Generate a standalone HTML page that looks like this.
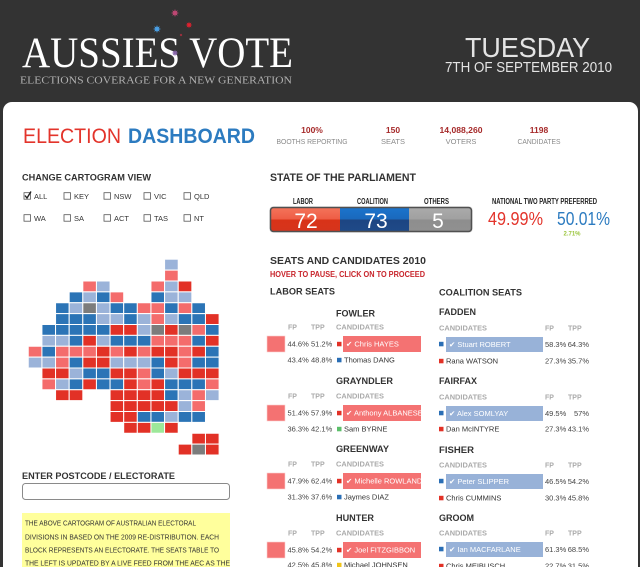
<!DOCTYPE html>
<html><head><meta charset="utf-8"><style>
html,body{margin:0;padding:0;width:640px;height:567px;overflow:hidden;background:#333}
svg{display:block}
text{font-family:"Liberation Sans","DejaVu Sans",sans-serif}
.D{fill:#2b74b6}.L{fill:#9bb3d9}.R{fill:#e23126}.P{fill:#f46c6c}.G{fill:#7c7c7c}.N{fill:#9de89a}
.m rect{vector-effect:non-scaling-stroke;stroke:#fff;stroke-width:1px}
.hd{font-weight:bold;font-size:9px;fill:#333}
.gh{font-weight:bold;font-size:7px;fill:#aaa}
.pc{font-size:7.5px;fill:#444}
.nm{font-size:7.5px;fill:#333}
.wn{font-size:7.5px;fill:#fff}
.cb{fill:#fff;stroke:#555;stroke-width:0.8}
.cl{font-size:7.5px;fill:#333}
.st{font-weight:bold;font-size:8.5px;fill:#a62a2a}
.sl{font-size:7.5px;fill:#8a8a8a}
</style></head><body>
<svg width="640" height="567" viewBox="0 0 640 567" xmlns="http://www.w3.org/2000/svg">
<defs>
<path id="star" d="M0,-4 L1,-1 L4,0 L1,1 L0,4 L-1,1 L-4,0 L-1,-1Z M0,-1.4 L2.8,-2.8 L1.4,0 L2.8,2.8 L0,1.4 L-2.8,2.8 L-1.4,0 L-2.8,-2.8Z"/>
<linearGradient id="gl" x1="0" y1="0" x2="0" y2="1"><stop offset="0" stop-color="#f4735a"/><stop offset="0.5" stop-color="#ee5c44"/><stop offset="0.5" stop-color="#d93318"/><stop offset="1" stop-color="#d6341c"/></linearGradient>
<linearGradient id="gc" x1="0" y1="0" x2="0" y2="1"><stop offset="0" stop-color="#1b74cc"/><stop offset="0.5" stop-color="#1a68bc"/><stop offset="0.5" stop-color="#1d4582"/><stop offset="1" stop-color="#1e4a88"/></linearGradient>
<linearGradient id="go" x1="0" y1="0" x2="0" y2="1"><stop offset="0" stop-color="#aaaaaa"/><stop offset="0.5" stop-color="#a0a0a0"/><stop offset="0.5" stop-color="#8e8e8e"/><stop offset="1" stop-color="#909090"/></linearGradient>
<clipPath id="clipL"><rect x="260" y="310" width="175" height="260"/></clipPath>
</defs>

<!-- header -->
<rect x="0" y="0" width="640" height="567" fill="#333"/>
<text x="22" y="67" font-family="Liberation Serif,serif" font-size="43" fill="#fff" textLength="271" lengthAdjust="spacingAndGlyphs" style="font-family:'Liberation Serif',serif">AUSSIES VOTE</text>
<text x="20" y="83.5" font-size="10" fill="#b0b0b0" textLength="272" lengthAdjust="spacingAndGlyphs" style="font-family:'Liberation Serif',serif">ELECTIONS COVERAGE FOR A NEW GENERATION</text>
<use href="#star" transform="translate(175,13)" fill="#c04874"/>
<use href="#star" transform="translate(189,25) scale(0.85)" fill="#e3202e"/>
<use href="#star" transform="translate(157,29)" fill="#4aa0e6"/>
<use href="#star" transform="translate(181,35) scale(0.4)" fill="#b03040"/>
<use href="#star" transform="translate(175,53) scale(0.85)" fill="#8866aa"/>
<text x="465" y="57" font-size="28" fill="#e4e4e4" textLength="125" lengthAdjust="spacingAndGlyphs">TUESDAY</text>
<text x="445" y="72" font-size="14.5" fill="#e4e4e4" textLength="167" lengthAdjust="spacingAndGlyphs">7TH OF SEPTEMBER 2010</text>

<!-- panel -->
<rect x="3" y="102" width="635" height="480" rx="9" fill="#fff"/>

<text x="23" y="143" font-size="21" fill="#e3342b" textLength="98" lengthAdjust="spacingAndGlyphs">ELECTION</text>
<text x="128" y="143" font-size="21" font-weight="bold" fill="#2c7bc0" textLength="127" lengthAdjust="spacingAndGlyphs">DASHBOARD</text>

<text class="st" x="312" y="133" text-anchor="middle">100%</text>
<text class="sl" x="312" y="144" text-anchor="middle" textLength="71" lengthAdjust="spacingAndGlyphs">BOOTHS REPORTING</text>
<text class="st" x="393" y="133" text-anchor="middle">150</text>
<text class="sl" x="393" y="144" text-anchor="middle">SEATS</text>
<text class="st" x="461" y="133" text-anchor="middle" textLength="43" lengthAdjust="spacingAndGlyphs">14,088,260</text>
<text class="sl" x="461" y="144" text-anchor="middle">VOTERS</text>
<text class="st" x="539" y="133" text-anchor="middle">1198</text>
<text class="sl" x="539" y="144" text-anchor="middle" textLength="43" lengthAdjust="spacingAndGlyphs">CANDIDATES</text>

<!-- cartogram controls -->
<text x="22" y="180.5" font-size="9" font-weight="bold" fill="#333" textLength="129" lengthAdjust="spacingAndGlyphs">CHANGE CARTOGRAM VIEW</text>
<rect class="cb" x="24" y="192.7" width="6.5" height="6.5"/>
<path d="M25,195.5 L27,198 L31,191.5" stroke="#222" stroke-width="1.4" fill="none"/>
<rect class="cb" x="64" y="192.7" width="6.5" height="6.5"/>
<rect class="cb" x="104" y="192.7" width="6.5" height="6.5"/>
<rect class="cb" x="144" y="192.7" width="6.5" height="6.5"/>
<rect class="cb" x="184" y="192.7" width="6.5" height="6.5"/>
<text class="cl" x="34" y="198.8">ALL</text>
<text class="cl" x="74" y="198.8">KEY</text>
<text class="cl" x="114" y="198.8">NSW</text>
<text class="cl" x="154" y="198.8">VIC</text>
<text class="cl" x="194" y="198.8">QLD</text>
<rect class="cb" x="24" y="214.7" width="6.5" height="6.5"/>
<rect class="cb" x="64" y="214.7" width="6.5" height="6.5"/>
<rect class="cb" x="104" y="214.7" width="6.5" height="6.5"/>
<rect class="cb" x="144" y="214.7" width="6.5" height="6.5"/>
<rect class="cb" x="184" y="214.7" width="6.5" height="6.5"/>
<text class="cl" x="34" y="220.8">WA</text>
<text class="cl" x="74" y="220.8">SA</text>
<text class="cl" x="114" y="220.8">ACT</text>
<text class="cl" x="154" y="220.8">TAS</text>
<text class="cl" x="194" y="220.8">NT</text>

<!-- map -->
<svg class="m" x="28.3" y="259.3" width="190.8" height="195.7" viewBox="0 0 14 18" preserveAspectRatio="none">
<rect class="L" x="10" y="0" width="1" height="1"/>
<rect class="P" x="10" y="1" width="1" height="1"/>
<rect class="P" x="4" y="2" width="1" height="1"/><rect class="L" x="5" y="2" width="1" height="1"/><rect class="P" x="9" y="2" width="1" height="1"/><rect class="L" x="10" y="2" width="1" height="1"/><rect class="R" x="11" y="2" width="1" height="1"/>
<rect class="D" x="3" y="3" width="1" height="1"/><rect class="L" x="4" y="3" width="1" height="1"/><rect class="D" x="5" y="3" width="1" height="1"/><rect class="P" x="6" y="3" width="1" height="1"/><rect class="D" x="9" y="3" width="1" height="1"/><rect class="L" x="10" y="3" width="1" height="1"/><rect class="L" x="11" y="3" width="1" height="1"/>
<rect class="D" x="2" y="4" width="1" height="1"/><rect class="L" x="3" y="4" width="1" height="1"/><rect class="G" x="4" y="4" width="1" height="1"/><rect class="L" x="5" y="4" width="1" height="1"/><rect class="D" x="6" y="4" width="1" height="1"/><rect class="D" x="7" y="4" width="1" height="1"/><rect class="P" x="8" y="4" width="1" height="1"/><rect class="P" x="9" y="4" width="1" height="1"/><rect class="D" x="10" y="4" width="1" height="1"/><rect class="P" x="11" y="4" width="1" height="1"/><rect class="D" x="12" y="4" width="1" height="1"/>
<rect class="D" x="2" y="5" width="1" height="1"/><rect class="D" x="3" y="5" width="1" height="1"/><rect class="D" x="4" y="5" width="1" height="1"/><rect class="L" x="5" y="5" width="1" height="1"/><rect class="L" x="6" y="5" width="1" height="1"/><rect class="D" x="7" y="5" width="1" height="1"/><rect class="L" x="8" y="5" width="1" height="1"/><rect class="P" x="9" y="5" width="1" height="1"/><rect class="L" x="10" y="5" width="1" height="1"/><rect class="D" x="11" y="5" width="1" height="1"/><rect class="D" x="12" y="5" width="1" height="1"/><rect class="R" x="13" y="5" width="1" height="1"/>
<rect class="D" x="1" y="6" width="1" height="1"/><rect class="D" x="2" y="6" width="1" height="1"/><rect class="D" x="3" y="6" width="1" height="1"/><rect class="D" x="4" y="6" width="1" height="1"/><rect class="D" x="5" y="6" width="1" height="1"/><rect class="R" x="6" y="6" width="1" height="1"/><rect class="R" x="7" y="6" width="1" height="1"/><rect class="L" x="8" y="6" width="1" height="1"/><rect class="G" x="9" y="6" width="1" height="1"/><rect class="R" x="10" y="6" width="1" height="1"/><rect class="G" x="11" y="6" width="1" height="1"/><rect class="P" x="12" y="6" width="1" height="1"/><rect class="D" x="13" y="6" width="1" height="1"/>
<rect class="L" x="1" y="7" width="1" height="1"/><rect class="L" x="2" y="7" width="1" height="1"/><rect class="D" x="3" y="7" width="1" height="1"/><rect class="R" x="4" y="7" width="1" height="1"/><rect class="L" x="5" y="7" width="1" height="1"/><rect class="D" x="6" y="7" width="1" height="1"/><rect class="D" x="7" y="7" width="1" height="1"/><rect class="D" x="8" y="7" width="1" height="1"/><rect class="P" x="9" y="7" width="1" height="1"/><rect class="P" x="10" y="7" width="1" height="1"/><rect class="P" x="11" y="7" width="1" height="1"/><rect class="D" x="12" y="7" width="1" height="1"/><rect class="R" x="13" y="7" width="1" height="1"/>
<rect class="P" x="0" y="8" width="1" height="1"/><rect class="D" x="1" y="8" width="1" height="1"/><rect class="P" x="2" y="8" width="1" height="1"/><rect class="P" x="3" y="8" width="1" height="1"/><rect class="P" x="4" y="8" width="1" height="1"/><rect class="R" x="5" y="8" width="1" height="1"/><rect class="P" x="6" y="8" width="1" height="1"/><rect class="R" x="7" y="8" width="1" height="1"/><rect class="P" x="8" y="8" width="1" height="1"/><rect class="R" x="9" y="8" width="1" height="1"/><rect class="R" x="10" y="8" width="1" height="1"/><rect class="P" x="11" y="8" width="1" height="1"/><rect class="R" x="12" y="8" width="1" height="1"/><rect class="D" x="13" y="8" width="1" height="1"/>
<rect class="L" x="0" y="9" width="1" height="1"/><rect class="L" x="1" y="9" width="1" height="1"/><rect class="P" x="2" y="9" width="1" height="1"/><rect class="D" x="3" y="9" width="1" height="1"/><rect class="R" x="4" y="9" width="1" height="1"/><rect class="R" x="5" y="9" width="1" height="1"/><rect class="L" x="6" y="9" width="1" height="1"/><rect class="L" x="7" y="9" width="1" height="1"/><rect class="L" x="8" y="9" width="1" height="1"/><rect class="D" x="9" y="9" width="1" height="1"/><rect class="R" x="10" y="9" width="1" height="1"/><rect class="P" x="11" y="9" width="1" height="1"/><rect class="D" x="12" y="9" width="1" height="1"/><rect class="D" x="13" y="9" width="1" height="1"/>
<rect class="R" x="1" y="10" width="1" height="1"/><rect class="R" x="2" y="10" width="1" height="1"/><rect class="L" x="3" y="10" width="1" height="1"/><rect class="D" x="4" y="10" width="1" height="1"/><rect class="D" x="5" y="10" width="1" height="1"/><rect class="R" x="6" y="10" width="1" height="1"/><rect class="R" x="7" y="10" width="1" height="1"/><rect class="P" x="8" y="10" width="1" height="1"/><rect class="D" x="9" y="10" width="1" height="1"/><rect class="L" x="10" y="10" width="1" height="1"/><rect class="R" x="11" y="10" width="1" height="1"/><rect class="R" x="12" y="10" width="1" height="1"/><rect class="R" x="13" y="10" width="1" height="1"/>
<rect class="P" x="1" y="11" width="1" height="1"/><rect class="L" x="2" y="11" width="1" height="1"/><rect class="D" x="3" y="11" width="1" height="1"/><rect class="R" x="4" y="11" width="1" height="1"/><rect class="D" x="5" y="11" width="1" height="1"/><rect class="D" x="6" y="11" width="1" height="1"/><rect class="R" x="7" y="11" width="1" height="1"/><rect class="P" x="8" y="11" width="1" height="1"/><rect class="R" x="9" y="11" width="1" height="1"/><rect class="D" x="10" y="11" width="1" height="1"/><rect class="D" x="11" y="11" width="1" height="1"/><rect class="D" x="12" y="11" width="1" height="1"/><rect class="P" x="13" y="11" width="1" height="1"/>
<rect class="R" x="2" y="12" width="1" height="1"/><rect class="R" x="3" y="12" width="1" height="1"/><rect class="R" x="6" y="12" width="1" height="1"/><rect class="R" x="7" y="12" width="1" height="1"/><rect class="R" x="8" y="12" width="1" height="1"/><rect class="R" x="9" y="12" width="1" height="1"/><rect class="D" x="10" y="12" width="1" height="1"/><rect class="L" x="11" y="12" width="1" height="1"/><rect class="P" x="12" y="12" width="1" height="1"/><rect class="L" x="13" y="12" width="1" height="1"/>
<rect class="R" x="6" y="13" width="1" height="1"/><rect class="R" x="7" y="13" width="1" height="1"/><rect class="R" x="8" y="13" width="1" height="1"/><rect class="R" x="9" y="13" width="1" height="1"/><rect class="R" x="10" y="13" width="1" height="1"/><rect class="L" x="11" y="13" width="1" height="1"/><rect class="P" x="12" y="13" width="1" height="1"/>
<rect class="R" x="6" y="14" width="1" height="1"/><rect class="R" x="7" y="14" width="1" height="1"/><rect class="D" x="8" y="14" width="1" height="1"/><rect class="D" x="9" y="14" width="1" height="1"/><rect class="L" x="10" y="14" width="1" height="1"/><rect class="D" x="11" y="14" width="1" height="1"/><rect class="D" x="12" y="14" width="1" height="1"/>
<rect class="R" x="7" y="15" width="1" height="1"/><rect class="R" x="8" y="15" width="1" height="1"/><rect class="N" x="9" y="15" width="1" height="1"/><rect class="R" x="10" y="15" width="1" height="1"/>
<rect class="R" x="12" y="16" width="1" height="1"/><rect class="R" x="13" y="16" width="1" height="1"/>
<rect class="R" x="11" y="17" width="1" height="1"/><rect class="G" x="12" y="17" width="1" height="1"/><rect class="R" x="13" y="17" width="1" height="1"/>
</svg>

<!-- postcode -->
<text x="22" y="479" font-size="9" font-weight="bold" fill="#333" textLength="153" lengthAdjust="spacingAndGlyphs">ENTER POSTCODE / ELECTORATE</text>
<rect x="22.5" y="483.5" width="207" height="16" rx="3" fill="#fff" stroke="#8a8a8a" stroke-width="1"/>
<rect x="22" y="513" width="208" height="60" fill="#ffff9c"/>
<text x="25" y="525.5" font-size="7" fill="#333" textLength="171" lengthAdjust="spacingAndGlyphs">THE ABOVE CARTOGRAM OF AUSTRALIAN ELECTORAL</text>
<text x="25" y="539.5" font-size="7" fill="#333" textLength="194" lengthAdjust="spacingAndGlyphs">DIVISIONS IN BASED ON THE 2009 RE-DISTRIBUTION. EACH</text>
<text x="25" y="552.5" font-size="7" fill="#333" textLength="194" lengthAdjust="spacingAndGlyphs">BLOCK REPRESENTS AN ELECTORATE. THE SEATS TABLE TO</text>
<text x="25" y="565.5" font-size="7" fill="#333" textLength="205" lengthAdjust="spacingAndGlyphs">THE LEFT IS UPDATED BY A LIVE FEED FROM THE AEC AS THE</text>

<!-- parliament -->
<text x="270" y="181" font-size="11" font-weight="bold" fill="#333" textLength="146" lengthAdjust="spacingAndGlyphs">STATE OF THE PARLIAMENT</text>
<text x="293" y="204" font-size="8" font-weight="bold" fill="#222" textLength="20" lengthAdjust="spacingAndGlyphs">LABOR</text>
<text x="357" y="204" font-size="8" font-weight="bold" fill="#222" textLength="31" lengthAdjust="spacingAndGlyphs">COALITION</text>
<text x="424" y="204" font-size="8" font-weight="bold" fill="#222" textLength="25" lengthAdjust="spacingAndGlyphs">OTHERS</text>
<rect x="269.5" y="206.5" width="203" height="26" rx="3" fill="#ddd"/>
<rect x="271" y="208" width="69" height="23" fill="url(#gl)"/>
<rect x="340" y="208" width="69" height="23" fill="url(#gc)"/>
<rect x="409" y="208" width="62" height="23" fill="url(#go)"/>
<rect x="270.5" y="207.5" width="201" height="24" rx="3" fill="none" stroke="#505050" stroke-width="1.5"/>
<text x="306" y="228" font-size="21" fill="#fff" text-anchor="middle">72</text>
<text x="376" y="228" font-size="21" fill="#fff" text-anchor="middle">73</text>
<text x="438" y="228" font-size="21" fill="#fff" text-anchor="middle">5</text>

<text x="492" y="204" font-size="8" font-weight="bold" fill="#222" textLength="105" lengthAdjust="spacingAndGlyphs">NATIONAL TWO PARTY PREFERRED</text>
<text x="488" y="225" font-size="18" fill="#e3342b" textLength="55" lengthAdjust="spacingAndGlyphs">49.99%</text>
<text x="557" y="225" font-size="18" fill="#2c7bc0" textLength="53" lengthAdjust="spacingAndGlyphs">50.01%</text>
<text x="572" y="235.5" font-size="6" font-weight="bold" fill="#9bc53d" text-anchor="middle">2.71%</text>

<!-- seats -->
<text x="270" y="264" font-size="10.5" font-weight="bold" fill="#333" textLength="156" lengthAdjust="spacingAndGlyphs">SEATS AND CANDIDATES 2010</text>
<text x="270" y="277" font-size="8" font-weight="bold" fill="#c8242b" textLength="155" lengthAdjust="spacingAndGlyphs">HOVER TO PAUSE, CLICK ON TO PROCEED</text>
<text x="270" y="294.5" font-size="9" font-weight="bold" fill="#333" textLength="65" lengthAdjust="spacingAndGlyphs">LABOR SEATS</text>
<text x="439" y="295.5" font-size="9" font-weight="bold" fill="#333" textLength="83" lengthAdjust="spacingAndGlyphs">COALITION SEATS</text>

<!-- labor table -->
<g clip-path="url(#clipL)">
<text class="hd" x="336" y="316.5" textLength="39" lengthAdjust="spacingAndGlyphs">FOWLER</text>
<text class="gh" x="288" y="329.5">FP</text><text class="gh" x="311" y="329.5">TPP</text><text class="gh" x="336" y="329.5" textLength="48" lengthAdjust="spacingAndGlyphs">CANDIDATES</text>
<rect x="267" y="336" width="18" height="16" fill="#f47272" stroke="#fbd0d0" stroke-width="0.6"/>
<text class="pc" x="287.5" y="346.7">44.6%</text><text class="pc" x="311" y="346.7">51.2%</text>
<rect x="337" y="341.8" width="4.5" height="4.5" fill="#e23126"/>
<rect x="343" y="336" width="78" height="16" fill="#f47272"/>
<text class="wn" x="346" y="346.7">✔ Chris HAYES</text>
<text class="pc" x="287.5" y="362.7">43.4%</text><text class="pc" x="311" y="362.7">48.8%</text>
<rect x="337" y="357.8" width="4.5" height="4.5" fill="#2a6eb5"/>
<text class="nm" x="344" y="362.7">Thomas DANG</text>

<text class="hd" x="336" y="384.2" textLength="57" lengthAdjust="spacingAndGlyphs">GRAYNDLER</text>
<text class="gh" x="288" y="398.5">FP</text><text class="gh" x="311" y="398.5">TPP</text><text class="gh" x="336" y="398.5" textLength="48" lengthAdjust="spacingAndGlyphs">CANDIDATES</text>
<rect x="267" y="405" width="18" height="16" fill="#f47272" stroke="#fbd0d0" stroke-width="0.6"/>
<text class="pc" x="287.5" y="415.7">51.4%</text><text class="pc" x="311" y="415.7">57.9%</text>
<rect x="337" y="410.8" width="4.5" height="4.5" fill="#e23126"/>
<rect x="343" y="405" width="78" height="16" fill="#f47272"/>
<text class="wn" x="346" y="415.7">✔ Anthony ALBANESE</text>
<text class="pc" x="287.5" y="431.7">36.3%</text><text class="pc" x="311" y="431.7">42.1%</text>
<rect x="337" y="426.8" width="4.5" height="4.5" fill="#5cbf6a"/>
<text class="nm" x="344" y="431.7">Sam BYRNE</text>

<text class="hd" x="336" y="452.2" textLength="53" lengthAdjust="spacingAndGlyphs">GREENWAY</text>
<text class="gh" x="288" y="466.5">FP</text><text class="gh" x="311" y="466.5">TPP</text><text class="gh" x="336" y="466.5" textLength="48" lengthAdjust="spacingAndGlyphs">CANDIDATES</text>
<rect x="267" y="473" width="18" height="16" fill="#f47272" stroke="#fbd0d0" stroke-width="0.6"/>
<text class="pc" x="287.5" y="483.7">47.9%</text><text class="pc" x="311" y="483.7">62.4%</text>
<rect x="337" y="478.8" width="4.5" height="4.5" fill="#e23126"/>
<rect x="343" y="473" width="78" height="16" fill="#f47272"/>
<text class="wn" x="346" y="483.7">✔ Michelle ROWLAND</text>
<text class="pc" x="287.5" y="499.7">31.3%</text><text class="pc" x="311" y="499.7">37.6%</text>
<rect x="337" y="494.8" width="4.5" height="4.5" fill="#2a6eb5"/>
<text class="nm" x="344" y="499.7">Jaymes DIAZ</text>

<text class="hd" x="336" y="521.2" textLength="38" lengthAdjust="spacingAndGlyphs">HUNTER</text>
<text class="gh" x="288" y="535.5">FP</text><text class="gh" x="311" y="535.5">TPP</text><text class="gh" x="336" y="535.5" textLength="48" lengthAdjust="spacingAndGlyphs">CANDIDATES</text>
<rect x="267" y="542" width="18" height="16" fill="#f47272" stroke="#fbd0d0" stroke-width="0.6"/>
<text class="pc" x="287.5" y="552.7">45.8%</text><text class="pc" x="311" y="552.7">54.2%</text>
<rect x="337" y="547.8" width="4.5" height="4.5" fill="#e23126"/>
<rect x="343" y="542" width="78" height="16" fill="#f47272"/>
<text class="wn" x="346" y="552.7">✔ Joel FITZGIBBON</text>
<text class="pc" x="287.5" y="567.5">42.5%</text><text class="pc" x="311" y="567.5">45.8%</text>
<rect x="337" y="562.8" width="4.5" height="4.5" fill="#f0c419"/>
<text class="nm" x="344" y="567.5">Michael JOHNSEN</text>
</g>

<!-- coalition table -->
<text class="hd" x="439" y="315.2" textLength="37" lengthAdjust="spacingAndGlyphs">FADDEN</text>
<text class="gh" x="439" y="330.5" textLength="48" lengthAdjust="spacingAndGlyphs">CANDIDATES</text><text class="gh" x="545" y="330.5">FP</text><text class="gh" x="568" y="330.5">TPP</text>
<rect x="439" y="341.8" width="4.5" height="4.5" fill="#2a6eb5"/>
<rect x="446" y="337" width="97" height="15" fill="#98b2d8"/>
<text class="wn" x="449" y="347.2">✔ Stuart ROBERT</text>
<text class="pc" x="545" y="347.2">58.3%</text><text class="pc" x="589" y="347.2" text-anchor="end">64.3%</text>
<rect x="439" y="358.8" width="4.5" height="4.5" fill="#e23126"/>
<text class="nm" x="446" y="363.7">Rana WATSON</text>
<text class="pc" x="545" y="363.7">27.3%</text><text class="pc" x="589" y="363.7" text-anchor="end">35.7%</text>

<text class="hd" x="439" y="384.2" textLength="38" lengthAdjust="spacingAndGlyphs">FAIRFAX</text>
<text class="gh" x="439" y="399.5" textLength="48" lengthAdjust="spacingAndGlyphs">CANDIDATES</text><text class="gh" x="545" y="399.5">FP</text><text class="gh" x="568" y="399.5">TPP</text>
<rect x="439" y="410.8" width="4.5" height="4.5" fill="#2a6eb5"/>
<rect x="446" y="406" width="97" height="15" fill="#98b2d8"/>
<text class="wn" x="449" y="416.2">✔ Alex SOMLYAY</text>
<text class="pc" x="545" y="416.2">49.5%</text><text class="pc" x="589" y="416.2" text-anchor="end">57%</text>
<rect x="439" y="426.8" width="4.5" height="4.5" fill="#e23126"/>
<text class="nm" x="446" y="431.7">Dan McINTYRE</text>
<text class="pc" x="545" y="431.7">27.3%</text><text class="pc" x="589" y="431.7" text-anchor="end">43.1%</text>

<text class="hd" x="439" y="453.2" textLength="35" lengthAdjust="spacingAndGlyphs">FISHER</text>
<text class="gh" x="439" y="467.5" textLength="48" lengthAdjust="spacingAndGlyphs">CANDIDATES</text><text class="gh" x="545" y="467.5">FP</text><text class="gh" x="568" y="467.5">TPP</text>
<rect x="439" y="478.8" width="4.5" height="4.5" fill="#2a6eb5"/>
<rect x="446" y="474" width="97" height="15" fill="#98b2d8"/>
<text class="wn" x="449" y="484.2">✔ Peter SLIPPER</text>
<text class="pc" x="545" y="484.2">46.5%</text><text class="pc" x="589" y="484.2" text-anchor="end">54.2%</text>
<rect x="439" y="495.8" width="4.5" height="4.5" fill="#e23126"/>
<text class="nm" x="446" y="500.7">Chris CUMMINS</text>
<text class="pc" x="545" y="500.7">30.3%</text><text class="pc" x="589" y="500.7" text-anchor="end">45.8%</text>

<text class="hd" x="439" y="521.2" textLength="35" lengthAdjust="spacingAndGlyphs">GROOM</text>
<text class="gh" x="439" y="535.5" textLength="48" lengthAdjust="spacingAndGlyphs">CANDIDATES</text><text class="gh" x="545" y="535.5">FP</text><text class="gh" x="568" y="535.5">TPP</text>
<rect x="439" y="546.8" width="4.5" height="4.5" fill="#2a6eb5"/>
<rect x="446" y="542" width="97" height="15" fill="#98b2d8"/>
<text class="wn" x="449" y="552.2">✔ Ian MACFARLANE</text>
<text class="pc" x="545" y="552.2">61.3%</text><text class="pc" x="589" y="552.2" text-anchor="end">68.5%</text>
<rect x="439" y="563.8" width="4.5" height="4.5" fill="#e23126"/>
<text class="nm" x="446" y="568.7">Chris MEIBUSCH</text>
<text class="pc" x="545" y="568.7">22.7%</text><text class="pc" x="589" y="568.7" text-anchor="end">31.5%</text>
</svg>
</body></html>
